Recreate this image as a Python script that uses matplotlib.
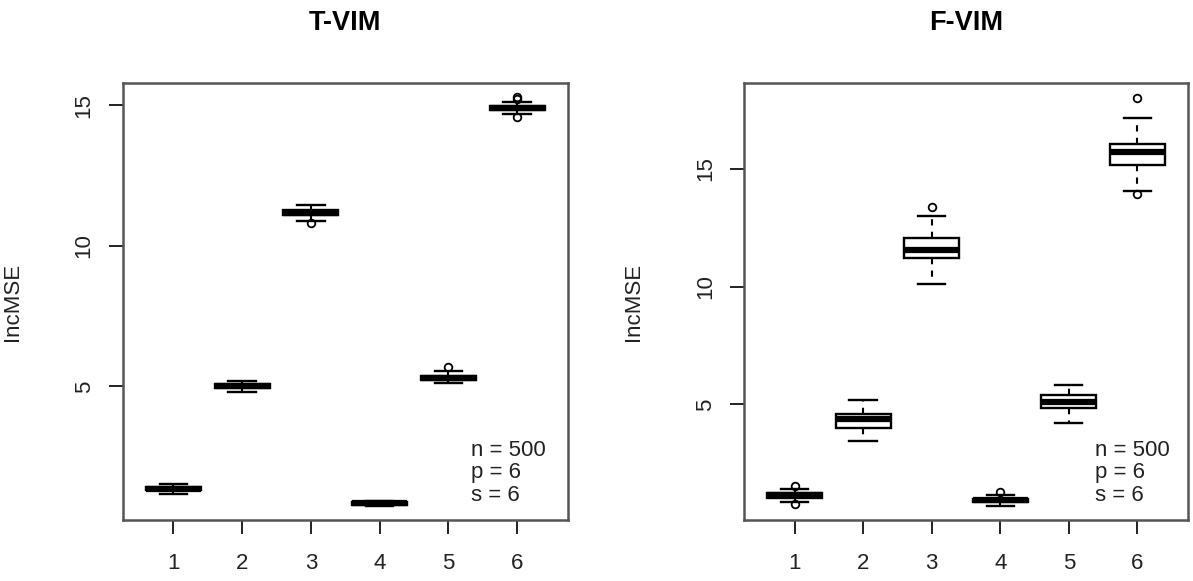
import matplotlib
matplotlib.use("Agg")
import matplotlib.pyplot as plt

plt.rcParams['font.family'] = ['Liberation Sans', 'DejaVu Sans']

positions = [1, 2, 3, 4, 5, 6]
tick_labels = ["1", "2", "3", "4", "5", "6"]

# T-VIM importance summaries (per variable)
t_whislo = [1.18, 4.80, 10.90, 0.74, 5.14, 14.68]
t_q1 = [1.30, 4.94, 11.10, 0.79, 5.24, 14.82]
t_med = [1.37, 5.02, 11.18, 0.84, 5.31, 14.89]
t_q3 = [1.44, 5.10, 11.26, 0.89, 5.38, 14.96]
t_whishi = [1.52, 5.21, 11.45, 0.93, 5.56, 15.12]
t_fliers = [[], [], [10.80], [], [5.68], [15.22, 15.28, 14.57]]

# F-VIM importance summaries (per variable)
f_whislo = [0.85, 3.44, 10.09, 0.68, 4.19, 14.05]
f_q1 = [1.02, 3.98, 11.20, 0.84, 4.86, 15.18]
f_med = [1.13, 4.36, 11.54, 0.92, 5.09, 15.71]
f_q3 = [1.25, 4.59, 12.08, 1.00, 5.40, 16.04]
f_whishi = [1.42, 5.19, 13.01, 1.15, 5.83, 17.16]
f_fliers = [[1.53, 0.75], [], [13.39], [1.28], [], [18.02, 13.91]]

titles = ["T-VIM", "F-VIM"]
ylabel = "IncMSE"
yticks = [5, 10, 15]
ylims = [(0.25, 15.79), (0.09, 18.64)]
note_lines = ["n = 500", "p = 6", "s = 6"]

FS = 16

fig = plt.figure(figsize=(11.93, 5.81), dpi=100)
axes = [fig.add_axes([0.1027, 0.105, 0.3734, 0.752]),
        fig.add_axes([0.6236, 0.105, 0.3722, 0.752])]

panels = [
    (t_whislo, t_q1, t_med, t_q3, t_whishi, t_fliers),
    (f_whislo, f_q1, f_med, f_q3, f_whishi, f_fliers),
]
note_x = [0.7816, 0.7905]

for i, (ax, data) in enumerate(zip(axes, panels)):
    lo, q1, med, q3, hi, fl = data
    stats = []
    for k in range(len(positions)):
        stats.append(dict(whislo=lo[k], q1=q1[k], med=med[k], q3=q3[k],
                          whishi=hi[k], fliers=fl[k], label=tick_labels[k]))
    ax.bxp(stats, positions=positions, widths=0.8, patch_artist=True,
           boxprops=dict(facecolor="white", edgecolor="black", linewidth=1.7),
           medianprops=dict(color="black", linewidth=4.5, solid_capstyle="butt"),
           whiskerprops=dict(color="black", linewidth=1.5, linestyle=(0, (3, 3))),
           capprops=dict(color="black", linewidth=1.7),
           flierprops=dict(marker="o", markersize=5.5, markerfacecolor="none",
                           markeredgecolor="black", markeredgewidth=1.3),
           capwidths=0.4)
    ax.set_xlim(0.26, 6.74)
    ax.set_ylim(*ylims[i])
    ax.set_xticks(positions)
    ax.set_xticklabels(tick_labels, fontsize=FS)
    ax.set_yticks(yticks)
    ax.set_yticklabels([str(v) for v in yticks], fontsize=FS,
                       rotation=90, va="center")
    ax.tick_params(axis="both", length=10, width=1.4, color="#222222",
                   labelcolor="#222222")
    ax.tick_params(axis="x", pad=14)
    ax.tick_params(axis="y", pad=10)
    for sp in ax.spines.values():
        sp.set_color("#555555")
        sp.set_linewidth(1.8)
    ax.set_ylabel(ylabel, fontsize=FS, color="#222222")
    ax.yaxis.set_label_coords(-0.224, 0.5)
    ax.text(0.5, 1.137, titles[i], transform=ax.transAxes, ha="center",
            va="center", fontsize=19.5, fontweight="bold")
    for j, line in enumerate(note_lines):
        ax.text(note_x[i], 0.1586 - j * 0.051, line, transform=ax.transAxes,
                ha="left", va="center", fontsize=FS, color="#222222")

fig.savefig("out.png", dpi=100, facecolor="white")
